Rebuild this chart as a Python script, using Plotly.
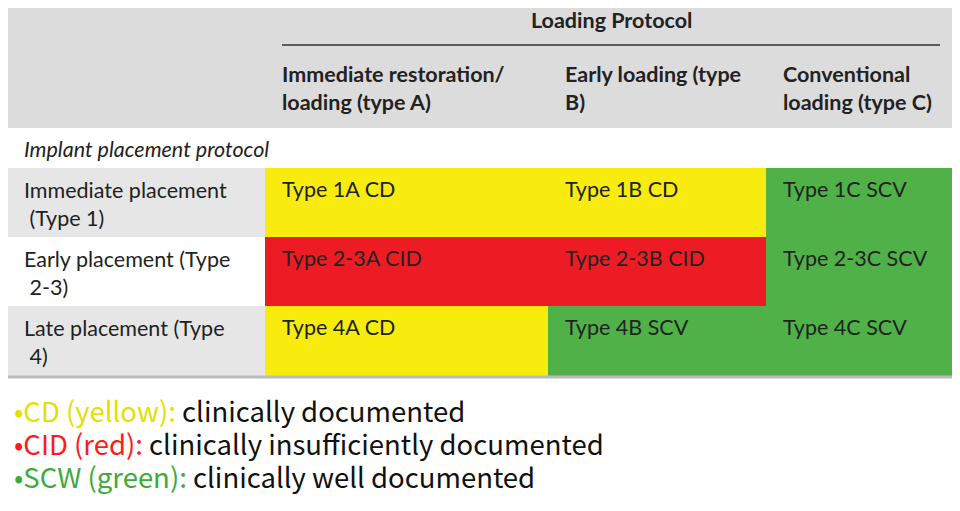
import plotly.graph_objects as go

title = "Loading Protocol"
col_labels = ["Immediate restoration/<br>loading (type A)", "Early loading (type<br>B)", "Conventional<br>loading (type C)"]
section_label = "Implant placement protocol"
row_labels = ["Immediate placement<br> (Type 1)", "Early placement (Type<br> 2-3)", "Late placement (Type<br> 4)"]
cell_text = [["Type 1A CD", "Type 1B CD", "Type 1C SCV"],
             ["Type 2-3A CID", "Type 2-3B CID", "Type 2-3C SCV"],
             ["Type 4A CD", "Type 4B SCV", "Type 4C SCV"]]
cell_cat = [["CD", "CD", "SCV"], ["CID", "CID", "SCV"], ["CD", "SCV", "SCV"]]
legend_keys = ["•CD (yellow):", "•CID (red):", "•SCW (green):"]
legend_desc = [" clinically documented", " clinically insufficiently documented", " clinically well documented"]

fill = {"CD": "#f8ec0f", "CID": "#ed1c24", "SCV": "#4fb148"}
legend_col = ["#e4e000", "#ff1a1a", "#3daa3d"]

W, H = 960, 511
OFF = 8  # page body margin compensation
col_edges = [0, 265, 548, 766, 960]
row_edges = [168, 237, 306, 376]
FONT = "Lato, Liberation Sans, sans-serif"
FS = 21.5

shapes, ann = [], []
shapes.append(dict(type="rect", x0=-20, x1=W + 20, y0=-20, y1=128, fillcolor="#dcdcdc", line_width=0, layer="below"))
shapes.append(dict(type="line", x0=282, x1=940, y0=45, y1=45, line=dict(color="#333", width=1.5)))
ann.append(dict(x=611, y=20, text="<b>" + title + "</b>", showarrow=False, font=dict(size=FS, color="#222", family=FONT)))
for j, lab in enumerate(col_labels):
    ann.append(dict(x=col_edges[j + 1] + 15, y=88, text="<b>" + lab + "</b>", showarrow=False, xanchor="left",
                    align="left", font=dict(size=FS, color="#222", family=FONT)))
ann.append(dict(x=22, y=149, text="<i>" + section_label + "</i>", showarrow=False, xanchor="left",
                font=dict(size=FS, color="#222", family=FONT)))
for i, lab in enumerate(row_labels):
    y0, y1 = row_edges[i], row_edges[i + 1]
    if i != 1:
        shapes.append(dict(type="rect", x0=-20, x1=col_edges[1], y0=y0, y1=y1, fillcolor="#e6e6e6", line_width=0, layer="below"))
    ann.append(dict(x=22, y=y0 + 36, text=lab, showarrow=False, xanchor="left", align="left",
                    font=dict(size=FS, color="#222", family=FONT)))
    for j in range(3):
        shapes.append(dict(type="rect", x0=col_edges[j + 1], x1=col_edges[j + 2] + (20 if j == 2 else 0), y0=y0, y1=y1,
                           fillcolor=fill[cell_cat[i][j]], line_width=0, layer="below"))
        ann.append(dict(x=col_edges[j + 1] + 15, y=y0 + 21, text=cell_text[i][j], showarrow=False, xanchor="left",
                        font=dict(size=FS, color="#222", family=FONT)))
shapes.append(dict(type="line", x0=-20, x1=W + 20, y0=377, y1=377, line=dict(color="#bbb", width=3)))
for k in range(3):
    ann.append(dict(x=12, y=410 + 33 * k, text=f"<span style='color:{legend_col[k]}'>{legend_keys[k]}</span>{legend_desc[k]}",
                    showarrow=False, xanchor="left", font=dict(size=27.5, color="#111", family="Noto Sans CJK KR, Noto Sans")))

fig = go.Figure()
fig.update_layout(width=W, height=H, margin=dict(l=0, r=0, t=0, b=0), plot_bgcolor="white", paper_bgcolor="white",
                  shapes=shapes, annotations=ann,
                  xaxis=dict(range=[OFF, W + OFF], visible=False, fixedrange=True),
                  yaxis=dict(range=[H + OFF, OFF], visible=False, fixedrange=True))
fig.write_html("out.html")
